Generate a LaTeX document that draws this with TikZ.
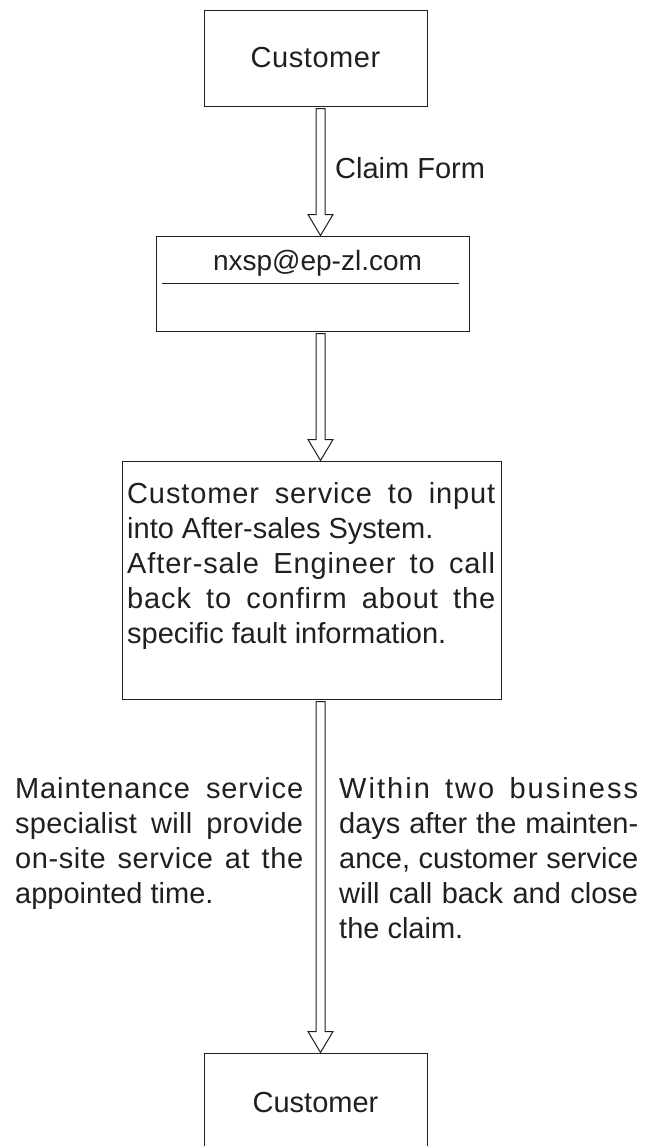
\documentclass[tikz,border=0pt]{standalone}
\usepackage{fontspec}
\setmainfont{Liberation Sans}
\usetikzlibrary{calc}
\definecolor{ink}{HTML}{231F20}
\newcommand\blockarr[2]{%
  \draw[arrowshape]
    ($(#1.south -| ax)+(-4.5pt,-2pt)$) -- ($(#1.south -| ax)+(4.5pt,-2pt)$)
    -- ($(#2.north -| ax)+(4.5pt,21pt)$) -- ($(#2.north -| ax)+(12.5pt,21pt)$)
    -- (#2.north -| ax)
    -- ($(#2.north -| ax)+(-12.5pt,21pt)$) -- ($(#2.north -| ax)+(-4.5pt,21pt)$)
    -- cycle;}
\newcommand\jline[2]{\makebox[\linewidth][s]{\addfontfeature{LetterSpace=#1}#2}}
\begin{document}
\begin{tikzpicture}[x=1pt,y=-1pt,
  box/.style={draw=ink, line width=1pt, inner sep=0pt, text=ink,
    font=\fontsize{29}{35}\selectfont},
  arrowshape/.style={draw=ink, line width=1pt, fill=white, line join=miter},
  txt/.style={inner sep=0pt, text=ink, anchor=base west}]
\useasboundingbox (0,0) rectangle (657,1146);
\clip (0,0) rectangle (657,1146);
\fill[white] (0,0) rectangle (657,1146);
\coordinate (ax) at (320.5,0);

\node[box, minimum width=223pt, minimum height=96pt] (c1) at (315.5,58) {\addfontfeature{LetterSpace=2}Customer};
\node[box, minimum width=313pt, minimum height=95pt] (mail) at (312.5,283.5) {};
\node[txt, anchor=base, font=\fontsize{28}{34}\selectfont] (mailtxt) at (317.5,270) {nxsp@ep-zl.com};
\draw[ink, line width=1pt] (162,283) -- (459,283);

\node[box, minimum width=379pt, minimum height=238pt] (cs) at (311.5,580) {};
\node[txt] (cstxt) at (127,503) {\parbox[t]{368pt}{\fontsize{29}{35}\selectfont
\jline{3}{Customer service to input}\\
into After-sales System.\\
\jline{3}{After-sale Engineer to call}\\
\jline{3}{back to confirm about the}\\
specific fault information.}};

\node[box, minimum width=223pt, minimum height=99pt] (c2) at (315.5,1102.5) {Customer};

\blockarr{c1}{mail}
\blockarr{mail}{cs}
\blockarr{cs}{c2}

\node[txt, font=\fontsize{29}{35}\selectfont] (claim) at (335,178) {Claim Form};

\node[txt] (lefttxt) at (15,798) {\parbox[t]{288pt}{\fontsize{29}{35}\selectfont
\jline{3}{Maintenance service}\\
\jline{1}{specialist will provide}\\
\jline{2}{on-site service at the}\\
appointed time.}};

\node[txt] (righttxt) at (339,798) {\parbox[t]{299pt}{\fontsize{29}{35}\selectfont
\jline{7}{Within two business}\\
\jline{0}{days after the mainten-}\\
\jline{0}{ance, customer service}\\
\jline{0}{will call back and close}\\
the claim.}};
\end{tikzpicture}
\end{document}
